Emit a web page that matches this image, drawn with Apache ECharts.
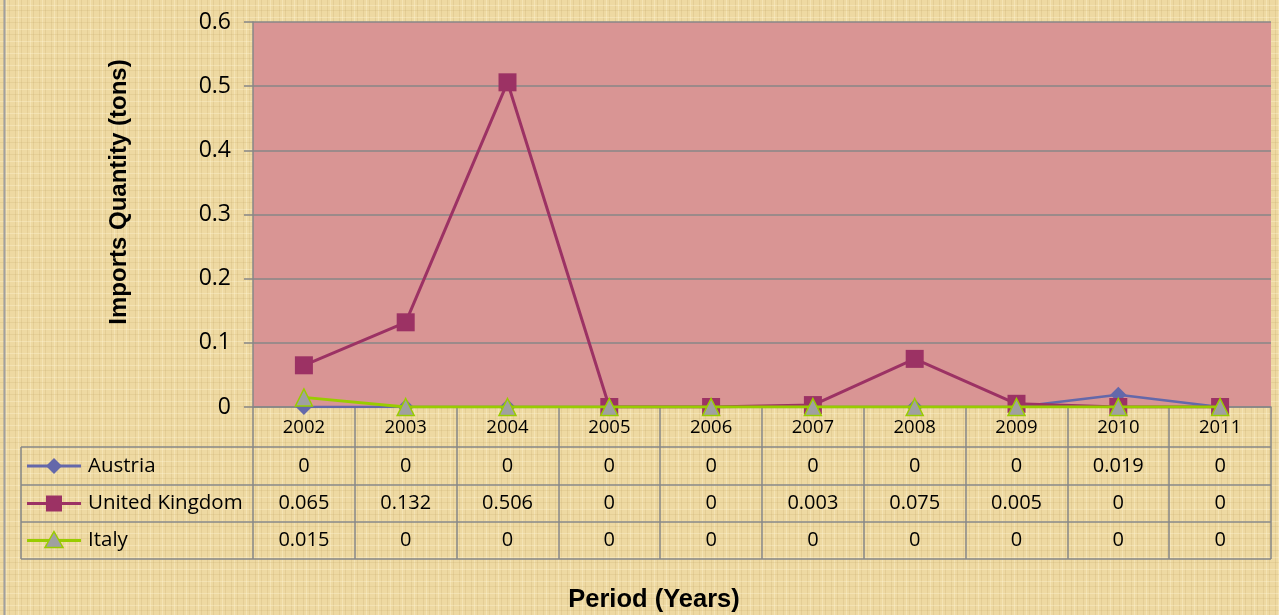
<!DOCTYPE html>
<html>
<head>
<meta charset="utf-8">
<script src="https://cdn.jsdelivr.net/npm/echarts@6/dist/echarts.min.js"></script>
<style>
    html, body { margin: 0; padding: 0; }
    #chartmain { width: 1279px; height: 615px; }
</style>
</head>
<body>
<div id="chartmain"></div>
<script>
var years = ['2002', '2003', '2004', '2005', '2006', '2007', '2008', '2009', '2010', '2011'];
var austria = [0, 0, 0, 0, 0, 0, 0, 0, 0.019, 0];
var unitedKingdom = [0.065, 0.132, 0.506, 0, 0, 0.003, 0.075, 0.005, 0, 0];
var italy = [0.015, 0, 0, 0, 0, 0, 0, 0, 0, 0];
var seriesNames = ['Austria', 'United Kingdom', 'Italy'];
var yTicks = [0, 0.1, 0.2, 0.3, 0.4, 0.5, 0.6];

var fontText = '"Open Sans", Lato, sans-serif';
var fontTitle = '"Liberation Sans", Arial, sans-serif';
var gridColor = '#878787';

// parchment texture
function makeTexture() {
    var c = document.createElement('canvas');
    c.width = 12; c.height = 12;
    var ctx = c.getContext('2d');
    ctx.fillStyle = '#eed9a2';
    ctx.fillRect(0, 0, 12, 12);
    ctx.fillStyle = 'rgba(200,170,110,0.25)';
    ctx.fillRect(3, 0, 1, 12);
    ctx.fillRect(9, 0, 1, 12);
    ctx.fillStyle = 'rgba(255,245,215,0.35)';
    ctx.fillRect(0, 5, 12, 1);
    ctx.fillRect(6, 0, 1, 12);
    ctx.fillStyle = 'rgba(190,160,100,0.18)';
    ctx.fillRect(0, 10, 12, 1);
    return c;
}

var gLeft = 253, gRight = 8, gTop = 22, gBottom = 208;
var rowY = [447, 485, 522, 559];
var tableLeft = 21, tableRight = 1271;

var myChart = echarts.init(document.getElementById('chartmain'));

var option = {
    backgroundColor: {image: makeTexture(), repeat: 'repeat'},
    animation: false,
    grid: {
        left: gLeft, right: gRight, top: gTop, bottom: gBottom,
        show: true, backgroundColor: '#d99594', borderWidth: 0
    },
    xAxis: {
        type: 'category',
        data: years,
        boundaryGap: true,
        axisLine: {lineStyle: {color: gridColor, width: 1.5}},
        axisTick: {show: true, inside: false, length: 152, lineStyle: {color: gridColor, width: 1.5}},
        axisLabel: {color: '#000', fontSize: 18.5, fontFamily: fontText, margin: 11}
    },
    yAxis: {
        type: 'value',
        min: yTicks[0],
        max: yTicks[yTicks.length - 1],
        interval: 0.1,
        axisLine: {show: true, lineStyle: {color: gridColor, width: 1.5}},
        axisTick: {show: true, length: 9, lineStyle: {color: gridColor, width: 1.5}},
        axisLabel: {color: '#000', fontSize: 23, fontFamily: fontText, margin: 22, padding: [3, 0, 0, 0]},
        splitLine: {lineStyle: {color: gridColor, width: 1.5}}
    },
    series: [
        {
            name: seriesNames[0], type: 'line', data: austria,
            symbol: 'diamond', symbolSize: 16,
            lineStyle: {color: '#6468aa', width: 2.5},
            itemStyle: {color: '#6468aa'}, z: 2
        },
        {
            name: seriesNames[1], type: 'line', data: unitedKingdom,
            symbol: 'rect', symbolSize: 18,
            lineStyle: {color: '#9c3264', width: 3},
            itemStyle: {color: '#9c3264'}, z: 3
        },
        {
            name: seriesNames[2], type: 'line', data: italy,
            symbol: 'triangle', symbolSize: 17,
            lineStyle: {color: '#99cc00', width: 3},
            itemStyle: {color: '#a0a0a0', borderColor: '#99cc00', borderWidth: 1.5}, z: 4
        }
    ]
};
myChart.setOption(option);

// data table below the plot
function buildTable() {
    var els = [];
    var lineStyle = {stroke: gridColor, lineWidth: 1.5};
    // outer left border of chart
    els.push({type: 'line', shape: {x1: 4.5, y1: 0, x2: 4.5, y2: 615}, style: {stroke: '#a0a0a0', lineWidth: 2}});
    rowY.forEach(function (y) {
        els.push({type: 'line', shape: {x1: tableLeft, y1: y, x2: tableRight, y2: y}, style: lineStyle});
    });
    els.push({type: 'line', shape: {x1: tableLeft, y1: rowY[0], x2: tableLeft, y2: rowY[3]}, style: lineStyle});

    var rows = [austria, unitedKingdom, italy];
    var colors = ['#6468aa', '#9c3264', '#99cc00'];
    var symbols = ['diamond', 'rect', 'triangle'];
    rows.forEach(function (vals, r) {
        var cy = (rowY[r] + rowY[r + 1]) / 2;
        vals.forEach(function (v, i) {
            var cx = myChart.convertToPixel({xAxisIndex: 0}, years[i]);
            els.push({
                type: 'text', x: cx, y: cy,
                style: {text: String(v), fill: '#000', font: '20px ' + fontText, align: 'center', verticalAlign: 'middle'}
            });
        });
        // legend key
        els.push({type: 'line', shape: {x1: 27, y1: cy, x2: 81, y2: cy}, style: {stroke: colors[r], lineWidth: 3}});
        var mark;
        if (symbols[r] === 'diamond') {
            mark = {type: 'polygon', shape: {points: [[54, cy - 8], [62, cy], [54, cy + 8], [46, cy]]}, style: {fill: colors[r]}};
        } else if (symbols[r] === 'rect') {
            mark = {type: 'rect', shape: {x: 46, y: cy - 8, width: 16, height: 16}, style: {fill: colors[r]}};
        } else {
            mark = {type: 'polygon', shape: {points: [[54, cy - 9], [63, cy + 7], [45, cy + 7]]}, style: {fill: '#a0a0a0', stroke: colors[r], lineWidth: 1.5}};
        }
        els.push(mark);
        els.push({
            type: 'text', x: 88, y: cy,
            style: {text: seriesNames[r], fill: '#000', font: '20.5px ' + fontText, align: 'left', verticalAlign: 'middle'}
        });
    });

    // axis titles
    els.push({
        type: 'text', x: 119, y: 192, rotation: Math.PI / 2,
        style: {text: 'Imports Quantity (tons)', fill: '#000', font: 'bold 24px ' + fontTitle, align: 'center', verticalAlign: 'middle'}
    });
    els.push({
        type: 'text', x: 654, y: 600,
        style: {text: 'Period (Years)', fill: '#000', font: 'bold 25.5px ' + fontTitle, align: 'center', verticalAlign: 'middle'}
    });
    myChart.setOption({graphic: {elements: els}});
}
buildTable();
</script>
</body>
</html>
